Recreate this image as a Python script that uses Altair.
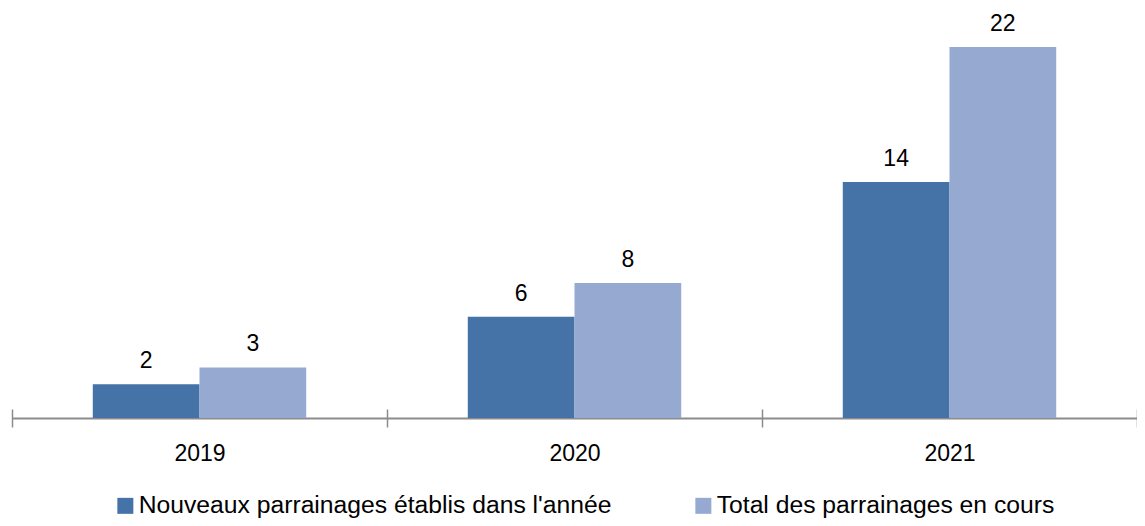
import altair as alt
import pandas as pd

years = ["2019", "2020", "2021"]
series = ["Nouveaux parrainages établis dans l'année", "Total des parrainages en cours"]
nouveaux = [2, 6, 14]
total = [3, 8, 22]
colors = ["#4572A7", "#95A9D1"]

rows = []
for i, y in enumerate(years):
    rows.append({"annee": y, "serie": series[0], "valeur": nouveaux[i]})
    rows.append({"annee": y, "serie": series[1], "valeur": total[i]})
df = pd.DataFrame(rows)

FONT = "Liberation Sans"
W, H = 1125, 371

x_enc = alt.X("annee:N", sort=years, title=None,
              scale=alt.Scale(paddingInner=0, paddingOuter=0),
              axis=alt.Axis(tickBand="extent", domain=False, offset=-9, tickSize=18,
                            tickColor="#8c8c8c", tickWidth=1.5, labelAngle=0,
                            labelFont=FONT, labelFontSize=23, labelColor="#000000",
                            labelPadding=15, labelBaseline="top"))
xo_enc = alt.XOffset("serie:N", sort=series,
                     scale=alt.Scale(paddingInner=0, paddingOuter=0.757))
y_enc = alt.Y("valeur:Q", title=None, scale=alt.Scale(domain=[0, 22], nice=False),
              axis=alt.Axis(values=[0], grid=True, gridColor="#8c8c8c", gridWidth=2,
                            labels=False, ticks=False, domain=False))

base = alt.Chart(df).encode(x=x_enc, xOffset=xo_enc, y=y_enc)

bars = base.mark_bar().encode(
    color=alt.Color("serie:N", sort=series,
                    scale=alt.Scale(domain=series, range=colors),
                    legend=alt.Legend(title=None, orient="none", direction="horizontal",
                                      legendX=101, legendY=446,
                                      symbolType="square", symbolSize=256,
                                      symbolStrokeWidth=0, symbolOpacity=1,
                                      labelFont=FONT, labelFontSize=24.7, labelColor="#000000",
                                      labelLimit=800, columnPadding=79, labelOffset=1))
)

labels = base.mark_text(baseline="alphabetic", dy=-16, font=FONT, fontSize=23,
                        color="#000000").encode(text="valeur:Q")

chart = alt.layer(bars, labels).properties(
    width=W, height=H,
    autosize=alt.AutoSizeParams(type="none"),
    padding={"left": 4, "top": 39, "right": 0, "bottom": 100},
).configure_view(stroke=None).configure_axisY(zindex=1)

chart.save("out.html", embed_options={"renderer": "svg", "actions": False})
